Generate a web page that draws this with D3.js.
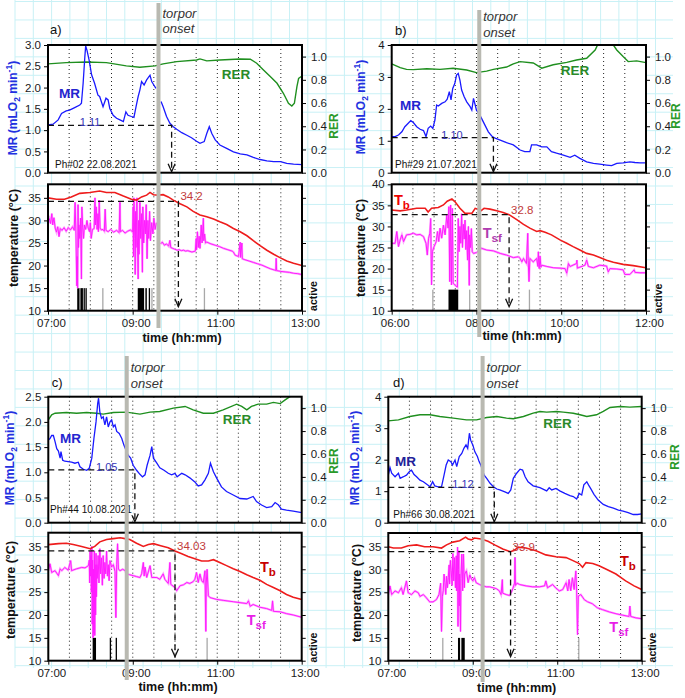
<!DOCTYPE html>
<html><head><meta charset="utf-8">
<script src="https://cdn.jsdelivr.net/npm/d3@7"></script>
<style>body{margin:0;background:#fff}svg{display:block}</style>
</head><body>
<script>
// ---------------- DATA (time in decimal hours) ----------------
const aMR=[[7.00,1.12],[7.12,1.14],[7.24,1.24],[7.32,1.39],[7.43,1.45],[7.51,1.47],[7.63,1.53],[7.75,1.59],[7.79,1.63],[7.83,2.10],[7.87,2.72],[7.89,2.98],[7.92,2.88],[7.97,2.65],[8.03,2.30],[8.10,2.10],[8.18,1.82],[8.22,1.79],[8.30,1.55],[8.37,1.75],[8.42,1.71],[8.46,1.51],[8.54,1.35],[8.62,1.28],[8.70,1.24],[8.78,1.20],[8.84,1.43],[8.89,1.35],[8.97,1.32],[9.03,1.30],[9.08,1.55],[9.13,1.79],[9.17,1.94],[9.21,2.14],[9.27,2.06],[9.33,2.18],[9.41,2.29],[9.45,2.14],[9.50,2.06],[9.55,1.98],[9.60,null],[9.67,1.67],[9.72,1.55],[9.80,1.32],[9.88,1.16],[9.96,1.08],[10.04,1.02],[10.16,0.94],[10.28,0.88],[10.39,0.82],[10.51,0.74],[10.59,0.69],[10.69,0.73],[10.75,0.92],[10.81,1.08],[10.87,0.92],[10.95,0.77],[11.06,0.65],[11.22,0.57],[11.38,0.49],[11.54,0.44],[11.70,0.42],[11.85,0.36],[12.01,0.31],[12.17,0.28],[12.33,0.26],[12.49,0.26],[12.64,0.22],[12.80,0.20],[13.00,0.19]];
const aRER=[[7.00,0.937],[7.43,0.948],[7.91,0.954],[8.38,0.948],[8.85,0.92],[9.17,0.908],[9.53,0.92],[9.72,0.937],[10.04,0.957],[10.51,0.971],[10.59,0.98],[10.75,0.963],[11.06,0.971],[11.54,0.98],[11.78,0.977],[11.93,0.943],[12.09,0.885],[12.25,0.828],[12.41,0.77],[12.56,0.684],[12.68,0.598],[12.76,0.575],[12.82,0.598],[12.88,0.741],[12.92,0.813],[13.00,0.833]];
const aTb=[[7.00,35.0],[7.20,34.7],[7.39,34.7],[7.55,35.2],[7.75,36.0],[7.99,36.2],[8.22,36.5],[8.38,36.2],[8.58,36.2],[8.78,35.4],[8.97,34.7],[9.09,34.5],[9.21,35.2],[9.33,35.6],[9.41,36.2],[9.49,35.7],[9.61,35.6],[9.72,35.7],[9.84,35.2],[9.96,34.5],[10.12,33.7],[10.28,33.0],[10.43,32.0],[10.59,31.2],[10.75,30.8],[10.91,30.3],[11.06,29.7],[11.22,29.1],[11.38,28.2],[11.54,27.5],[11.70,26.6],[11.85,25.5],[12.01,24.4],[12.17,23.4],[12.33,22.5],[12.49,21.7],[12.64,21.0],[12.80,20.5],[13.00,20.0]];
const aTsf=[[7.00,29.7],[7.03,30.4],[7.06,29.3],[7.09,31.5],[7.11,29.0],[7.14,30.6],[7.17,28.3],[7.20,27.4],[7.23,28.6],[7.26,26.4],[7.29,28.2],[7.33,27.8],[7.38,28.4],[7.43,27.6],[7.48,28.4],[7.53,27.9],[7.58,28.6],[7.62,27.8],[7.64,34.0],[7.66,27.0],[7.68,15.5],[7.69,22.0],[7.70,15.0],[7.71,33.5],[7.72,24.0],[7.73,29.0],[7.75,26.0],[7.77,30.5],[7.79,17.0],[7.80,33.0],[7.82,28.5],[7.84,26.0],[7.86,29.0],[7.89,28.0],[7.92,30.0],[7.95,28.3],[7.98,27.5],[8.00,29.5],[8.02,26.0],[8.05,28.0],[8.09,28.2],[8.11,35.0],[8.12,29.0],[8.14,33.0],[8.16,28.0],[8.18,31.5],[8.19,27.5],[8.21,34.5],[8.23,28.3],[8.26,27.9],[8.30,28.0],[8.33,27.6],[8.35,32.5],[8.37,27.8],[8.42,27.5],[8.48,28.0],[8.55,27.4],[8.62,27.8],[8.68,27.3],[8.70,34.0],[8.71,27.5],[8.76,27.8],[8.82,27.2],[8.88,27.6],[8.95,27.9],[9.00,27.4],[9.01,33.0],[9.02,22.0],[9.03,35.0],[9.05,26.0],[9.06,18.0],[9.07,32.0],[9.08,24.0],[9.10,35.0],[9.11,27.0],[9.13,17.0],[9.14,30.0],[9.15,22.5],[9.17,34.0],[9.19,26.0],[9.21,31.5],[9.23,18.5],[9.24,33.0],[9.26,25.0],[9.28,30.0],[9.30,27.0],[9.32,33.5],[9.34,21.5],[9.36,30.0],[9.38,26.0],[9.40,32.0],[9.42,25.5],[9.45,29.5],[9.48,27.0],[9.50,30.5],[9.53,28.0],[9.56,29.5],[9.60,null],[9.66,24.8],[9.70,25.2],[9.75,24.5],[9.80,24.8],[9.85,24.3],[9.88,25.6],[9.90,24.0],[9.95,23.8],[10.00,23.6],[10.05,23.4],[10.10,23.5],[10.15,23.3],[10.20,23.4],[10.25,23.2],[10.30,23.3],[10.40,23.0],[10.48,23.2],[10.50,26.0],[10.51,23.5],[10.53,27.5],[10.55,24.0],[10.57,26.5],[10.59,23.8],[10.62,29.0],[10.64,25.0],[10.67,30.5],[10.68,25.5],[10.70,27.0],[10.72,25.0],[10.75,25.2],[10.85,24.8],[10.95,24.5],[11.05,24.2],[11.15,23.8],[11.25,23.5],[11.35,23.2],[11.38,23.0],[11.42,22.3],[11.50,22.0],[11.54,25.2],[11.55,21.8],[11.58,25.0],[11.59,21.5],[11.65,21.3],[11.75,21.0],[11.85,20.7],[11.95,20.4],[12.05,20.1],[12.15,19.7],[12.25,19.3],[12.35,19.0],[12.38,18.9],[12.39,21.6],[12.40,18.9],[12.50,18.7],[12.60,18.6],[12.70,18.5],[12.80,18.3],[12.90,18.2],[13.00,18.0]];
const aAct=[[7.69,7.745,1],[7.765,7.825,1],[7.84,7.87,1],[7.885,7.90,1],[8.28,8.292,0],[9.12,9.27,1],[9.30,9.335,1],[9.38,9.40,1],[9.44,9.452,0],[10.68,10.692,0]];

const bMR=[[6.00,1.13],[6.08,1.13],[6.16,1.18],[6.24,1.28],[6.31,1.44],[6.39,1.55],[6.45,1.63],[6.51,1.57],[6.59,1.44],[6.67,1.36],[6.75,1.32],[6.81,1.13],[6.86,1.39],[6.92,1.46],[6.97,1.39],[7.02,1.65],[7.06,2.12],[7.10,2.09],[7.18,2.17],[7.26,2.22],[7.31,2.30],[7.36,2.54],[7.40,2.28],[7.44,2.64],[7.49,2.80],[7.53,3.06],[7.57,3.11],[7.61,2.90],[7.65,2.59],[7.71,2.38],[7.77,2.22],[7.85,2.07],[7.89,1.96],[7.93,2.33],[7.97,2.12],[8.00,1.96],[8.06,1.85],[8.12,1.70],[8.20,1.49],[8.28,1.28],[8.36,1.15],[8.44,1.08],[8.56,1.02],[8.71,0.94],[8.87,0.87],[9.03,0.71],[9.14,0.66],[9.26,0.66],[9.30,0.87],[9.42,0.87],[9.54,0.81],[9.66,0.81],[9.77,0.66],[9.89,0.61],[10.05,0.55],[10.21,0.48],[10.32,0.55],[10.44,0.45],[10.60,0.34],[10.76,0.29],[10.91,0.27],[11.07,0.24],[11.19,0.22],[11.31,0.29],[11.46,0.31],[11.62,0.34],[11.74,0.32],[11.86,0.31],[12.00,0.31]];
const bRER=[[6.00,0.937],[6.20,0.905],[6.35,0.89],[6.51,0.888],[6.83,0.895],[7.14,0.89],[7.45,0.90],[7.77,0.885],[8.00,0.862],[8.24,0.875],[8.40,0.89],[8.71,0.91],[8.87,0.937],[9.03,0.957],[9.34,0.945],[9.54,0.90],[9.81,0.93],[10.13,0.95],[10.36,0.971],[10.60,0.986],[10.80,1.057],[10.87,1.11],[11.00,1.15],[11.15,1.14],[11.23,1.10],[11.31,1.057],[11.46,1.00],[11.58,0.957],[11.78,0.963],[12.00,0.948]];
const bTb=[[6.00,33.9],[6.20,33.7],[6.35,33.9],[6.59,34.3],[6.79,34.3],[6.86,33.4],[6.94,34.3],[7.10,34.5],[7.22,35.1],[7.31,36.0],[7.42,36.5],[7.49,35.9],[7.61,34.3],[7.73,33.1],[7.89,33.1],[7.97,34.3],[8.04,34.1],[8.08,33.5],[8.18,34.3],[8.32,34.1],[8.48,33.7],[8.63,33.3],[8.77,32.8],[8.95,31.6],[9.11,30.5],[9.26,29.6],[9.42,28.8],[9.50,29.0],[9.62,28.6],[9.77,28.0],[9.97,26.8],[10.13,26.0],[10.28,25.2],[10.44,24.4],[10.60,23.6],[10.76,23.2],[10.91,22.6],[11.07,22.0],[11.23,21.5],[11.46,21.0],[11.70,20.7],[12.00,20.2]];
const bTsf=[[6.00,26.0],[6.08,26.0],[6.12,28.8],[6.16,25.2],[6.20,26.8],[6.24,28.0],[6.28,26.4],[6.35,28.0],[6.43,28.1],[6.51,28.4],[6.59,28.0],[6.67,28.1],[6.75,27.6],[6.81,26.0],[6.84,23.2],[6.87,27.2],[6.90,28.4],[6.92,31.9],[6.94,16.1],[6.96,24.0],[7.00,25.2],[7.05,26.4],[7.08,28.8],[7.11,26.4],[7.14,29.6],[7.18,27.2],[7.22,30.3],[7.26,28.0],[7.30,32.7],[7.33,29.6],[7.35,34.7],[7.37,16.9],[7.39,35.1],[7.41,16.1],[7.43,34.3],[7.45,16.5],[7.50,16.0],[7.55,15.6],[7.57,31.9],[7.59,24.0],[7.61,30.0],[7.63,26.0],[7.65,33.0],[7.67,25.0],[7.69,30.5],[7.71,27.0],[7.73,31.5],[7.75,24.5],[7.77,29.0],[7.79,22.0],[7.81,30.0],[7.83,16.0],[7.84,28.0],[7.86,25.0],[7.88,29.5],[7.90,24.0],[7.93,23.6],[8.00,23.8],[8.12,24.8],[8.24,24.4],[8.40,24.2],[8.56,23.6],[8.71,23.2],[8.87,22.6],[8.99,22.8],[9.03,22.4],[9.07,21.6],[9.11,22.4],[9.18,21.2],[9.21,28.4],[9.22,22.0],[9.24,16.9],[9.26,22.4],[9.34,21.6],[9.42,22.4],[9.45,20.5],[9.46,24.0],[9.48,20.0],[9.50,23.0],[9.52,20.3],[9.54,20.8],[9.66,20.5],[9.81,20.2],[9.97,20.1],[10.09,20.0],[10.13,18.9],[10.17,21.2],[10.21,20.5],[10.36,21.2],[10.37,22.0],[10.38,20.1],[10.56,20.8],[10.60,22.0],[10.64,20.5],[10.76,20.2],[10.91,20.8],[11.07,20.6],[11.11,19.2],[11.15,20.0],[11.31,19.9],[11.46,19.7],[11.50,18.6],[11.62,18.6],[11.72,19.7],[11.74,19.1],[11.86,19.0],[12.00,19.0]];
const bAct=[[6.955,6.967,0],[7.34,7.57,1],[7.825,7.837,0],[9.235,9.247,0]];

const cMR=[[7.00,1.64],[7.04,1.67],[7.08,1.73],[7.12,1.73],[7.16,1.61],[7.20,1.47],[7.24,1.42],[7.28,1.28],[7.30,1.41],[7.34,1.24],[7.39,1.22],[7.47,1.21],[7.55,1.20],[7.63,1.18],[7.71,1.20],[7.75,1.11],[7.83,1.06],[7.91,1.04],[7.97,1.08],[8.03,1.28],[8.08,1.67],[8.13,2.00],[8.17,2.37],[8.19,2.47],[8.22,2.20],[8.26,2.07],[8.30,2.10],[8.34,1.94],[8.38,2.10],[8.42,1.90],[8.46,2.00],[8.50,2.04],[8.54,1.90],[8.58,1.94],[8.62,1.81],[8.68,1.77],[8.74,1.67],[8.79,1.54],[8.84,1.44],[8.89,1.34],[8.95,1.28],[9.01,1.14],[9.09,1.04],[9.17,0.96],[9.23,0.91],[9.29,0.95],[9.34,1.14],[9.41,1.34],[9.45,1.51],[9.49,1.28],[9.57,1.18],[9.64,1.09],[9.74,1.04],[9.84,0.98],[9.92,0.95],[10.00,0.98],[10.05,0.91],[10.16,0.98],[10.24,0.95],[10.35,0.89],[10.47,0.81],[10.55,0.73],[10.63,0.75],[10.71,0.85],[10.79,0.98],[10.84,1.18],[10.91,1.01],[10.99,0.88],[11.10,0.71],[11.22,0.62],[11.38,0.55],[11.54,0.48],[11.70,0.47],[11.85,0.52],[11.93,0.42],[12.05,0.35],[12.17,0.30],[12.29,0.32],[12.37,0.40],[12.45,0.35],[12.52,0.27],[12.64,0.25],[12.80,0.23],[13.00,0.20]];
const cRER=[[7.00,0.898],[7.08,0.942],[7.16,0.956],[7.43,0.962],[7.67,0.956],[7.91,0.962],[8.14,0.956],[8.30,0.948],[8.54,0.962],[8.85,0.965],[9.17,0.948],[9.41,0.965],[9.64,0.971],[9.96,1.00],[10.24,1.015],[10.43,0.985],[10.67,0.956],[10.91,0.956],[11.14,0.985],[11.46,1.035],[11.58,1.015],[11.70,0.985],[11.81,1.015],[11.97,1.035],[12.17,1.035],[12.33,1.05],[12.49,1.04],[12.60,1.07],[12.72,1.10],[13.00,1.15]];
const cTb=[[7.00,35.4],[7.24,35.6],[7.43,35.7],[7.59,35.4],[7.79,35.0],[7.99,34.5],[8.10,35.0],[8.22,36.0],[8.38,36.5],[8.54,36.7],[8.70,36.9],[8.82,36.7],[8.93,36.5],[9.09,35.7],[9.25,35.0],[9.37,35.4],[9.49,35.6],[9.64,35.2],[9.84,34.7],[10.00,34.0],[10.16,33.4],[10.31,32.8],[10.47,32.3],[10.63,31.8],[10.79,31.8],[10.91,32.1],[11.06,31.5],[11.22,30.8],[11.38,30.1],[11.54,29.5],[11.70,28.8],[11.85,28.2],[12.01,27.6],[12.17,26.7],[12.33,26.0],[12.49,25.3],[12.64,24.5],[12.80,23.9],[13.00,23.4]];
const cTsf=[[7.00,29.7],[7.04,31.2],[7.08,29.3],[7.16,29.7],[7.24,28.6],[7.28,30.1],[7.32,29.7],[7.39,30.4],[7.47,29.8],[7.53,31.9],[7.55,29.7],[7.67,30.1],[7.79,30.4],[7.87,30.3],[7.95,30.8],[7.97,32.0],[7.98,27.0],[7.99,34.0],[8.00,28.5],[8.01,33.0],[8.02,25.0],[8.03,35.0],[8.04,18.0],[8.05,32.0],[8.06,15.0],[8.07,30.0],[8.08,16.0],[8.09,34.0],[8.10,15.5],[8.11,31.0],[8.12,20.0],[8.13,33.5],[8.14,24.0],[8.15,31.0],[8.16,28.0],[8.18,33.0],[8.20,27.0],[8.22,34.5],[8.24,29.0],[8.26,32.5],[8.28,26.5],[8.30,33.0],[8.32,28.0],[8.34,31.5],[8.36,29.0],[8.38,34.0],[8.40,28.5],[8.42,31.0],[8.44,27.5],[8.46,31.9],[8.50,30.5],[8.54,31.0],[8.58,29.5],[8.60,19.4],[8.62,31.0],[8.64,35.6],[8.66,30.0],[8.70,29.7],[8.76,30.0],[8.82,29.7],[8.85,29.0],[8.93,28.8],[9.01,28.6],[9.09,28.4],[9.17,28.2],[9.21,29.0],[9.25,31.5],[9.27,28.5],[9.29,30.5],[9.33,28.2],[9.41,30.8],[9.45,28.2],[9.57,28.2],[9.64,27.8],[9.72,29.0],[9.76,27.8],[9.84,26.9],[9.88,31.5],[9.90,26.7],[10.00,26.0],[10.04,25.3],[10.12,26.4],[10.20,26.6],[10.28,27.1],[10.35,26.9],[10.43,27.3],[10.47,27.8],[10.51,29.3],[10.55,27.1],[10.59,29.0],[10.63,27.5],[10.67,27.1],[10.71,29.7],[10.73,16.4],[10.74,27.0],[10.76,30.0],[10.79,24.2],[10.83,23.8],[10.99,23.4],[11.14,23.2],[11.38,22.9],[11.54,22.7],[11.70,22.5],[11.74,23.1],[11.78,21.9],[11.85,22.3],[12.01,21.7],[12.17,21.4],[12.29,21.0],[12.31,23.1],[12.33,20.8],[12.49,20.7],[12.64,20.3],[12.80,20.0],[13.00,19.5]];
const cAct=[[8.05,8.13,1],[8.455,8.466,1],[8.595,8.606,1],[10.745,10.757,0]];

const dMR=[[7.00,1.51],[7.04,1.75],[7.08,1.57],[7.16,1.46],[7.24,1.57],[7.28,1.41],[7.36,1.46],[7.43,1.51],[7.51,1.64],[7.55,1.67],[7.61,1.53],[7.67,1.46],[7.75,1.35],[7.83,1.30],[7.91,1.22],[7.99,1.14],[8.05,1.30],[8.10,1.17],[8.18,1.14],[8.26,1.14],[8.32,1.51],[8.37,1.83],[8.42,1.99],[8.48,1.94],[8.52,1.83],[8.58,1.99],[8.62,1.78],[8.68,2.10],[8.74,2.20],[8.79,2.36],[8.84,2.47],[8.88,2.36],[8.92,2.84],[8.95,2.62],[9.00,2.47],[9.05,2.25],[9.11,2.10],[9.15,1.94],[9.19,1.83],[9.27,1.51],[9.33,1.41],[9.41,1.25],[9.49,1.14],[9.57,1.07],[9.64,1.04],[9.76,0.98],[9.84,0.93],[9.90,1.04],[9.96,1.41],[10.04,1.57],[10.12,1.70],[10.18,1.67],[10.24,1.46],[10.31,1.30],[10.43,1.17],[10.59,1.11],[10.75,1.01],[10.81,1.11],[10.87,1.04],[10.97,1.09],[11.06,1.01],[11.18,0.93],[11.30,0.86],[11.38,0.83],[11.46,0.75],[11.52,0.93],[11.58,0.88],[11.63,1.20],[11.70,1.30],[11.74,1.20],[11.79,1.09],[11.87,0.90],[11.97,0.72],[12.09,0.58],[12.21,0.51],[12.33,0.46],[12.45,0.40],[12.56,0.37],[12.68,0.32],[12.80,0.26],[12.90,0.26],[13.00,0.28]];
const dRER=[[7.00,0.889],[7.24,0.898],[7.51,0.927],[7.75,0.942],[7.99,0.942],[8.22,0.927],[8.54,0.913],[8.85,0.898],[9.09,0.898],[9.33,0.918],[9.57,0.927],[9.80,0.913],[9.96,0.907],[10.20,0.927],[10.43,0.956],[10.59,0.971],[10.75,0.965],[10.99,0.971],[11.14,0.965],[11.38,0.956],[11.54,0.942],[11.70,0.927],[11.93,0.942],[12.09,0.971],[12.25,1.006],[12.49,1.015],[12.72,1.009],[13.00,1.015]];
const dTb=[[7.00,35.0],[7.12,34.7],[7.31,34.7],[7.47,35.2],[7.67,35.4],[7.86,35.0],[8.06,35.0],[8.26,34.7],[8.38,35.4],[8.53,36.0],[8.69,36.3],[8.83,37.1],[8.89,36.7],[8.97,36.5],[9.04,36.9],[9.20,36.7],[9.36,36.2],[9.52,35.4],[9.71,34.5],[9.89,33.9],[9.99,34.2],[10.07,34.9],[10.26,34.7],[10.50,34.1],[10.73,33.2],[10.97,32.8],[11.21,32.6],[11.36,32.0],[11.52,31.3],[11.60,30.5],[11.68,31.5],[11.84,31.3],[11.99,30.8],[12.15,30.1],[12.39,29.0],[12.62,27.5],[12.82,26.4],[13.00,25.6]];
const dTsf=[[7.00,24.5],[7.04,26.4],[7.08,24.5],[7.16,25.3],[7.24,24.9],[7.31,26.0],[7.35,24.5],[7.43,27.5],[7.47,24.9],[7.55,24.5],[7.63,25.3],[7.71,24.9],[7.75,24.1],[7.83,24.5],[7.90,23.8],[7.98,22.9],[8.06,22.9],[8.14,23.4],[8.20,24.5],[8.24,27.0],[8.26,16.4],[8.28,24.0],[8.30,25.3],[8.32,29.0],[8.34,27.1],[8.36,24.5],[8.38,28.5],[8.40,26.0],[8.42,28.2],[8.44,31.0],[8.45,26.8],[8.47,32.0],[8.49,29.7],[8.51,26.5],[8.53,33.5],[8.55,27.5],[8.57,32.6],[8.59,26.0],[8.61,33.0],[8.62,25.3],[8.64,34.9],[8.65,17.5],[8.66,30.0],[8.67,34.1],[8.68,22.0],[8.69,29.0],[8.71,16.4],[8.72,28.0],[8.74,33.4],[8.76,25.3],[8.77,31.0],[8.78,33.4],[8.80,26.0],[8.81,29.0],[8.85,29.7],[8.89,27.1],[8.93,28.8],[8.97,27.9],[9.00,27.5],[9.04,28.2],[9.08,27.1],[9.16,26.7],[9.24,26.4],[9.32,26.2],[9.40,26.2],[9.48,26.0],[9.56,25.8],[9.63,25.3],[9.67,24.5],[9.70,27.8],[9.71,24.8],[9.79,24.5],[9.87,24.3],[9.93,25.3],[9.99,27.0],[10.00,32.6],[10.01,26.5],[10.05,27.0],[10.11,26.7],[10.26,26.4],[10.42,26.2],[10.58,26.2],[10.70,26.4],[10.73,27.5],[10.77,26.0],[10.89,26.7],[10.97,25.9],[11.05,25.3],[11.13,25.6],[11.21,27.1],[11.25,25.3],[11.28,27.8],[11.32,25.3],[11.36,28.2],[11.40,25.6],[11.44,29.7],[11.46,25.3],[11.48,15.7],[11.50,24.2],[11.56,24.5],[11.64,23.4],[11.72,22.9],[11.83,22.5],[11.95,21.6],[12.07,21.2],[12.23,20.7],[12.39,20.3],[12.54,20.0],[12.70,19.7],[12.72,22.0],[12.74,19.7],[12.86,19.4],[13.00,19.2]];
const dAct=[[8.275,8.287,0],[8.65,8.70,1],[8.73,8.81,1],[11.495,11.507,0]];

const panelLetters=['a)','b)','c)','d)'];
const animalIds=['Ph#02 22.08.2021','Ph#29 21.07.2021','Ph#44 10.08.2021','Ph#66 30.08.2021'];
const torporT=[9.61,8.066,8.857,9.233];
const mrOnset=[1.11,1.10,1.05,1.12];
const mrOnsetT=[9.92,8.40,9.05,9.51];
const tbOnset=[34.2,32.8,34.03,33.9];
const tbOnsetT=[10.08,8.77,10.0,9.895];
const rerTicks=[0,0.2,0.4,0.6,0.8,1.0];

// ---------------- LAYOUT ----------------
const FONT='"Liberation Sans", Arial, Helvetica, sans-serif';
const layouts=[
 {dom:[7,13],x0:48,x1:302,tTop:45,tBot:172.7,bTop:184.3,bBot:310.7,mrMax:3,mrTicks:[0,0.5,1,1.5,2,2.5,3],mrFmt:'.1f',tMax:38,tTicks:[10,15,20,25,30,35],xTicks:[7,9,11,13],
  letter:[50,34],gy:[3,328],torY:[18,33],mrTitle:[13,108],rerTitle:[334,126],tempTitle:[13,238],active:[313,296],time:[182,341.5],mrLbl:[59,98],rerLbl:[221.7,79],mrValX:90,ph:[55,167.5],tbLbl:null,tsfLbl:null,mrCol:'#2424d0'},
 {dom:[6,12],x0:391.7,x1:646,tTop:45,tBot:172.7,bTop:184.3,bBot:310.7,mrMax:4,mrTicks:[0,1,2,3,4],mrFmt:'d',tMax:40,tTicks:[10,15,20,25,30,35,40],xTicks:[6,8,10,12],
  letter:[395,35],gy:[10,337],torY:[21,36.5],mrTitle:[361,107],rerTitle:[676,116],tempTitle:[360,248],active:[658,298.5],time:[522,340],mrLbl:[400,110],rerLbl:[560.7,75],mrValX:452,ph:[395,167.5],tbLbl:[394,205,'#ee0000'],tsfLbl:[482.7,238.3,'#b03cb0'],mrCol:'#2424d0'},
 {dom:[7,13],x0:48.3,x1:301.7,tTop:396.7,tBot:522.7,bTop:532.7,bBot:660.7,mrMax:2.5,mrTicks:[0,0.5,1,1.5,2,2.5],mrFmt:'.1f',tMax:38,tTicks:[10,15,20,25,30,35],xTicks:[7,9,11,13],
  letter:[51.7,387],gy:[356,680],torY:[371.7,387.7],mrTitle:[10,458],rerTitle:[333.3,461],tempTitle:[10,590],active:[313,647.5],time:[178,690.7],mrLbl:[60,443.3],rerLbl:[222.7,424.3],mrValX:106.7,ph:[50,513.3],tbLbl:[260,571.7,'#c80000'],tsfLbl:[246.7,625,'#e81ee8'],mrCol:'#2424d0'},
 {dom:[7,13],x0:388.3,x1:641.7,tTop:396.7,tBot:522.7,bTop:533,bBot:660.7,mrMax:4,mrTicks:[0,1,2,3,4],mrFmt:'d',tMax:38,tTicks:[10,15,20,25,30,35],xTicks:[7,9,11,13],
  letter:[393,387],gy:[356,682],torY:[371.7,387.7],mrTitle:[355,458],rerTitle:[675,457],tempTitle:[356,593],active:[652.7,647.5],time:[516.7,691.7],mrLbl:[395,465.7],rerLbl:[543.3,428.3],mrValX:463,ph:[393.3,518.3],tbLbl:[620,565.7,'#c80000'],tsfLbl:[609.3,631.7,'#e81ee8'],mrCol:'#22229a'}
];
const series=[[aMR,aRER,aTb,aTsf,aAct],[bMR,bRER,bTb,bTsf,bAct],[cMR,cRER,cTb,cTsf,cAct],[dMR,dRER,dTb,dTsf,dAct]];

// ---------------- DRAW ----------------
const svg=d3.select('body').append('svg').attr('width',685).attr('height',698).style('font-family',FONT);
svg.append('rect').attr('width',685).attr('height',698).attr('fill','#fff');
const defs=svg.append('defs');
// graph-paper background
const bg=svg.append('g').attr('stroke','#c9f1f6').attr('stroke-width',1);
for(let gx=15;gx<=673;gx+=18.3) bg.append('line').attr('x1',gx).attr('x2',gx).attr('y1',0).attr('y2',668);
for(let gy=1.5;gy<=669;gy+=18.45) bg.append('line').attr('x1',15).attr('x2',673).attr('y1',gy).attr('y2',gy);

const hm=h=>{const H=Math.floor(h+1e-6);const M=Math.round((h-H)*60);return String(H).padStart(2,'0')+':'+String(M).padStart(2,'0');};

function rotText(g,xy,size,color,weight){
  return g.append('text').attr('transform',`translate(${xy[0]},${xy[1]}) rotate(-90)`).attr('y',size*0.36)
    .attr('text-anchor','middle').attr('font-size',size).attr('font-weight',weight||'bold').attr('fill',color);
}
function styleAxis(s){s.select('.domain').remove();s.attr('font-family',FONT).attr('font-size',11.5);s.selectAll('text').attr('fill','#1a1a1a');s.selectAll('line').attr('stroke','#000');}

layouts.forEach((L,i)=>{
  const [mr,rer,tb,tsf,act]=series[i];
  const g=svg.append('g');
  const x=d3.scaleLinear().domain(L.dom).range([L.x0,L.x1]);
  const yM=d3.scaleLinear().domain([0,L.mrMax]).range([L.tBot,L.tTop]);
  const yR=d3.scaleLinear().domain([0,1.1]).range([L.tBot,L.tTop]);
  const yT=d3.scaleLinear().domain([10,L.tMax]).range([L.bBot,L.bTop]);
  const W=L.x1-L.x0;
  g.append('rect').attr('x',L.x0).attr('y',L.tTop).attr('width',W).attr('height',L.tBot-L.tTop).attr('fill','#fff');
  g.append('rect').attr('x',L.x0).attr('y',L.bTop).attr('width',W).attr('height',L.bBot-L.bTop).attr('fill','#fff');
  defs.append('clipPath').attr('id','ct'+i).append('rect').attr('x',L.x0).attr('y',L.tTop).attr('width',W).attr('height',L.tBot-L.tTop);
  defs.append('clipPath').attr('id','cb'+i).append('rect').attr('x',L.x0).attr('y',L.bTop).attr('width',W).attr('height',L.bBot-L.bTop);
  const halfs=d3.range(L.dom[0]+0.5,L.dom[1]-0.25,0.5);
  [[L.tTop,L.tBot],[L.bTop,L.bBot]].forEach(([y1,y2])=>{
    g.append('g').selectAll('line').data(halfs).join('line')
     .attr('x1',d=>x(d)).attr('x2',d=>x(d)).attr('y1',y1).attr('y2',y2)
     .attr('stroke','#222').attr('stroke-width',1).attr('stroke-dasharray','1,3');
  });
  // activity
  g.append('g').selectAll('rect').data(act).join('rect')
   .attr('x',d=>x(d[0])).attr('width',d=>Math.max(1.3,x(d[1])-x(d[0])))
   .attr('y',yT(15)).attr('height',yT(10)-yT(15)).attr('fill',d=>d[2]?'#000':'#a8a8a8');
  const ln=ys=>d3.line().defined(d=>d[1]!=null).x(d=>x(d[0])).y(d=>ys(d[1]));
  const gt=g.append('g').attr('clip-path',`url(#ct${i})`).attr('fill','none');
  gt.append('path').datum(rer).attr('d',ln(yR)).attr('stroke','#1f8f1f').attr('stroke-width',1.4);
  gt.append('path').datum(mr).attr('d',ln(yM)).attr('stroke','#1a1aff').attr('stroke-width',1.3);
  const gb=g.append('g').attr('clip-path',`url(#cb${i})`).attr('fill','none');
  gb.append('path').datum(tsf).attr('d',ln(yT)).attr('stroke','#ffa6ff').attr('stroke-width',2.2);
  gb.append('path').datum(tsf).attr('d',ln(yT)).attr('stroke','#ff1cff').attr('stroke-width',1);
  gb.append('path').datum(tb).attr('d',ln(yT)).attr('stroke','#ee1c1c').attr('stroke-width',1.6);
  // onset dashed lines
  const dash=g.append('g').attr('fill','none').attr('stroke','#111').attr('stroke-width',1.3);
  const xm=x(mrOnsetT[i]), ym=yM(mrOnset[i]);
  dash.append('path').attr('d',`M${L.x0},${ym}H${xm}V${L.tBot-1}`).attr('stroke-dasharray','6,4');
  dash.append('path').attr('d',`M${xm-3.5},${L.tBot-9}L${xm},${L.tBot-1}L${xm+3.5},${L.tBot-9}`);
  const xt=x(tbOnsetT[i]), yt=yT(tbOnset[i]);
  dash.append('path').attr('d',`M${L.x0},${yt}H${xt}V${L.bBot-4}`).attr('stroke-dasharray','6,4');
  dash.append('path').attr('d',`M${xt-3.5},${L.bBot-12}L${xt},${L.bBot-4}L${xt+3.5},${L.bBot-12}`);
  g.append('text').attr('x',L.mrValX).attr('y',ym+1).attr('text-anchor','middle').attr('font-size',11).attr('fill','#3434b8').text(d3.format('.2f')(mrOnset[i]));
  g.append('text').attr('x',xt+2).attr('y',yt-1).attr('font-size',11.5).attr('fill','#c23a3a').text(String(tbOnset[i]));
  // ID box
  const ph=g.append('text').attr('x',L.ph[0]).attr('y',L.ph[1]).attr('font-size',10).attr('fill','#111').text(animalIds[i]);
  const bb=ph.node().getBBox();
  g.insert('rect',()=>ph.node()).attr('x',bb.x-1).attr('y',bb.y).attr('width',bb.width+2).attr('height',bb.height).attr('fill','#fff');
  // boxes
  g.append('rect').attr('x',L.x0).attr('y',L.tTop).attr('width',W).attr('height',L.tBot-L.tTop).attr('fill','none').attr('stroke','#000').attr('stroke-width',2);
  g.append('rect').attr('x',L.x0).attr('y',L.bTop).attr('width',W).attr('height',L.bBot-L.bTop).attr('fill','none').attr('stroke','#000').attr('stroke-width',2);
  // axes
  g.append('g').attr('transform',`translate(${L.x0},0)`).call(d3.axisLeft(yM).tickValues(L.mrTicks).tickFormat(d3.format(L.mrFmt)).tickSize(4).tickPadding(3)).call(styleAxis);
  g.append('g').attr('transform',`translate(${L.x1},0)`).call(d3.axisRight(yR).tickValues(rerTicks).tickFormat(d3.format('.1f')).tickSize(4).tickPadding(5)).call(styleAxis);
  g.append('g').attr('transform',`translate(${L.x0},0)`).call(d3.axisLeft(yT).tickValues(L.tTicks).tickSize(4).tickPadding(3)).call(styleAxis);
  g.append('g').attr('transform',`translate(${L.x1},0)`).call(d3.axisRight(yT).tickValues(d3.range(10,L.tMax,5)).tickFormat('').tickSize(4)).call(styleAxis);
  g.append('g').attr('transform',`translate(0,${L.bBot})`).call(d3.axisBottom(x).tickValues(L.xTicks).tickFormat(hm).tickSize(4).tickPadding(4)).call(styleAxis).call(s=>s.selectAll('text').attr('dx',3));
  // titles
  const mt=rotText(g,L.mrTitle,12,'#2230e0');
  mt.append('tspan').text('MR (mLO');mt.append('tspan').attr('font-size',8.5).attr('dy',3).text('2');
  mt.append('tspan').attr('dy',-3).text(' min');mt.append('tspan').attr('font-size',8.5).attr('dy',-5).text('-1');
  mt.append('tspan').attr('dy',5).text(')');
  rotText(g,L.rerTitle,12,'#2a9a2a').text('RER');
  rotText(g,L.tempTitle,12.5,'#111').text('temperature (°C)');
  rotText(g,L.active,10.5,'#111').text('active');
  g.append('text').attr('x',L.time[0]).attr('y',L.time[1]).attr('text-anchor','middle').attr('font-size',12.5).attr('font-weight','bold').attr('fill','#111').text('time (hh:mm)');
  g.append('text').attr('x',L.mrLbl[0]).attr('y',L.mrLbl[1]).attr('font-size',13.5).attr('font-weight','bold').attr('fill',L.mrCol).text('MR');
  g.append('text').attr('x',L.rerLbl[0]).attr('y',L.rerLbl[1]).attr('font-size',13.5).attr('font-weight','bold').attr('fill','#2a8a2a').text('RER');
  if(L.tbLbl){const t=g.append('text').attr('x',L.tbLbl[0]).attr('y',L.tbLbl[1]).attr('font-size',14.5).attr('font-weight','bold').attr('fill',L.tbLbl[2]);
    t.append('tspan').text('T');t.append('tspan').attr('dy',4).attr('font-size',11.5).text('b');}
  if(L.tsfLbl){const t=g.append('text').attr('x',L.tsfLbl[0]).attr('y',L.tsfLbl[1]).attr('font-size',14.5).attr('font-weight','bold').attr('fill',L.tsfLbl[2]);
    t.append('tspan').text('T');t.append('tspan').attr('dy',4).attr('font-size',11.5).text('sf');}
  g.append('text').attr('x',L.letter[0]).attr('y',L.letter[1]).attr('font-size',13).attr('fill','#111').text(panelLetters[i]);
  // torpor onset
  const tx=x(torporT[i]);
  g.append('line').attr('x1',tx).attr('x2',tx).attr('y1',L.gy[0]).attr('y2',L.gy[1]).attr('stroke','#b9b9b1').attr('stroke-width',4);
  g.append('text').attr('x',tx+4).attr('y',L.torY[0]).attr('font-size',13).attr('font-style','italic').attr('fill','#333').text('torpor');
  g.append('text').attr('x',tx+4).attr('y',L.torY[1]).attr('font-size',13).attr('font-style','italic').attr('fill','#333').text('onset');
});
</script>
</body></html>
